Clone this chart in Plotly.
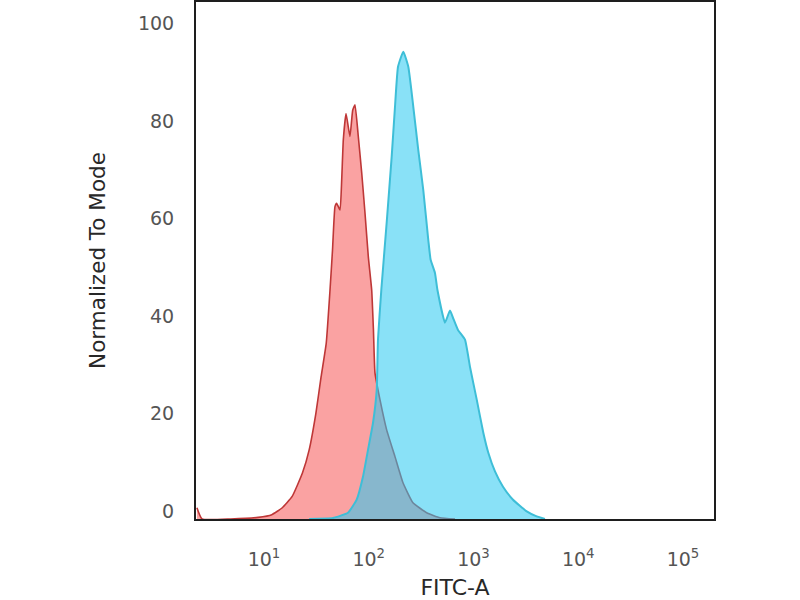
import plotly.graph_objects as go

# FITC-A intensity values and "Normalized To Mode" percentages
red_x = [2.29, 2.56, 4.83, 8.79, 11.87, 14.86, 18.58, 23.28, 27.0, 31.3, 35.1, 39.3,
         42.7, 45.1, 47.6, 49.4, 53.2, 55.2, 57.2, 60.7, 66.2, 70.3, 73.9, 79.5, 85.7,
         92.1, 99.1, 106.7, 110.9, 114.7, 128.0, 148.3, 178.1, 212.4, 264.3, 357.3,
         478.6, 665.8]
red_y = [2.3, 0.0, 0.0, 0.33, 0.88, 2.26, 4.63, 9.43, 14.2, 21.7, 29.2, 36.1,
         47.0, 55.2, 64.1, 64.8, 63.4, 69.6, 77.8, 83.2, 78.5, 83.9, 85.0, 78.5, 71.0,
         62.8, 53.8, 47.0, 38.8, 30.0, 24.5, 18.3, 12.8, 7.44, 3.34, 1.29,
         0.27, 0.0]

blue_x = [27.0, 45.6, 63.4, 76.7, 88.1, 98.4, 109.8, 119.2, 122.5, 131.8, 148.3, 165.5,
          178.1, 190.3, 213.8, 238.6, 266.3, 297.2, 331.7, 370.2, 389.9, 428.7, 452.9,
          534.3, 596.6, 637.1, 711.1, 829.7, 926.3, 1074, 1241, 1385, 1604, 1913, 2384,
          3222, 4011, 4810]
blue_y = [0.0, 0.2, 1.29, 3.96, 8.67, 14.2, 19.7, 26.5, 36.8, 47.0, 60.8, 74.3,
          84.6, 92.8, 95.9, 92.8, 84.6, 75.7, 67.5, 57.3, 53.2, 50.5, 47.0,
          40.3, 42.8, 41.3, 38.8, 36.8, 31.2, 24.5, 17.7, 13.6, 9.76, 6.62, 3.96,
          1.56, 0.53, 0.0]

x_tick_vals = [10, 100, 1000, 10000, 100000]
x_tick_text = ["10<sup>1</sup>", "10<sup>2</sup>", "10<sup>3</sup>", "10<sup>4</sup>", "10<sup>5</sup>"]
y_tick_vals = [0, 20, 40, 60, 80, 100]

fig = go.Figure()
fig.add_trace(go.Scatter(
    x=red_x, y=red_y, mode="lines", fill="tozeroy",
    line=dict(color="rgb(190,55,55)", width=1.6, shape="spline", smoothing=0.4),
    fillcolor="rgb(250,162,162)", showlegend=False, hoverinfo="skip"))
fig.add_trace(go.Scatter(
    x=blue_x, y=blue_y, mode="lines", fill="tozeroy",
    line=dict(color="rgb(62,190,215)", width=2, shape="spline", smoothing=0.4),
    fillcolor="rgba(40,200,240,0.55)", showlegend=False, hoverinfo="skip"))

font_family = "DejaVu Sans"
fig.update_layout(
    width=800, height=600,
    margin=dict(l=196, r=86, t=2, b=81),
    paper_bgcolor="white", plot_bgcolor="white",
    font=dict(family=font_family),
    xaxis=dict(
        type="log", range=[0.351, 5.296], automargin=False,
        tickvals=x_tick_vals, ticktext=x_tick_text,
        tickfont=dict(size=19, color="rgb(85,85,85)"),
        showgrid=False, zeroline=False, ticks="", ticklen=0,
        showline=True, mirror=True, linecolor="rgb(30,30,30)", linewidth=2,
        ticklabelstandoff=22,
        title=dict(text="FITC-A", font=dict(size=22, color="rgb(40,40,40)"), standoff=20),
    ),
    yaxis=dict(
        range=[0, 106.1], automargin=False,
        tickvals=y_tick_vals,
        tickfont=dict(size=19, color="rgb(85,85,85)"),
        showgrid=False, zeroline=False, ticks="", ticklen=0,
        showline=True, mirror=True, linecolor="rgb(30,30,30)", linewidth=2,
        ticklabelstandoff=16, ticklabelshift=-8,
        title=dict(text="Normalized To Mode", font=dict(size=21.5, color="rgb(40,40,40)"), standoff=26),
    ),
)

fig.write_html("out.html", config={"displayModeBar": False},
               post_script="document.body.style.margin='0';")
